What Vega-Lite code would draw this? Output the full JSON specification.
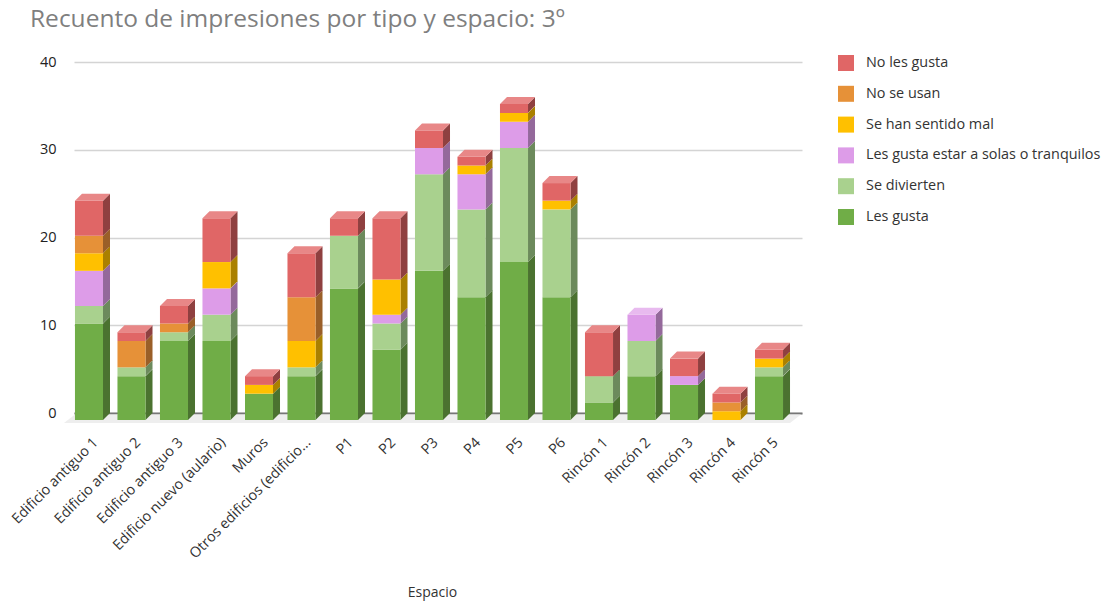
{
"$schema":"https://vega.github.io/schema/vega-lite/v6.json",
"width":728,"height":351,
"autosize":{"type":"none"},
"padding":{"left":74,"top":62,"right":305,"bottom":191},
"background":"white",
"title":{"text":"Recuento de impresiones por tipo y espacio: 3º","anchor":"start","frame":"group","dx":-44,"offset":22,"font":"Open Sans","fontSize":24.5,"fontWeight":"normal","color":"#7f7f7f"},
"config":{"view":{"stroke":null},"font":"Open Sans"},
"datasets":{
"filas":[
{"Espacio":"Edificio antiguo 1","Tipo":"Les gusta","orden":1,"Recuento":11},
{"Espacio":"Edificio antiguo 1","Tipo":"Se divierten","orden":2,"Recuento":2},
{"Espacio":"Edificio antiguo 1","Tipo":"Les gusta estar a solas o tranquilos","orden":3,"Recuento":4},
{"Espacio":"Edificio antiguo 1","Tipo":"Se han sentido mal","orden":4,"Recuento":2},
{"Espacio":"Edificio antiguo 1","Tipo":"No se usan","orden":5,"Recuento":2},
{"Espacio":"Edificio antiguo 1","Tipo":"No les gusta","orden":6,"Recuento":4},
{"Espacio":"Edificio antiguo 2","Tipo":"Les gusta","orden":1,"Recuento":5},
{"Espacio":"Edificio antiguo 2","Tipo":"Se divierten","orden":2,"Recuento":1},
{"Espacio":"Edificio antiguo 2","Tipo":"No se usan","orden":5,"Recuento":3},
{"Espacio":"Edificio antiguo 2","Tipo":"No les gusta","orden":6,"Recuento":1},
{"Espacio":"Edificio antiguo 3","Tipo":"Les gusta","orden":1,"Recuento":9},
{"Espacio":"Edificio antiguo 3","Tipo":"Se divierten","orden":2,"Recuento":1},
{"Espacio":"Edificio antiguo 3","Tipo":"No se usan","orden":5,"Recuento":1},
{"Espacio":"Edificio antiguo 3","Tipo":"No les gusta","orden":6,"Recuento":2},
{"Espacio":"Edificio nuevo (aulario)","Tipo":"Les gusta","orden":1,"Recuento":9},
{"Espacio":"Edificio nuevo (aulario)","Tipo":"Se divierten","orden":2,"Recuento":3},
{"Espacio":"Edificio nuevo (aulario)","Tipo":"Les gusta estar a solas o tranquilos","orden":3,"Recuento":3},
{"Espacio":"Edificio nuevo (aulario)","Tipo":"Se han sentido mal","orden":4,"Recuento":3},
{"Espacio":"Edificio nuevo (aulario)","Tipo":"No les gusta","orden":6,"Recuento":5},
{"Espacio":"Muros","Tipo":"Les gusta","orden":1,"Recuento":3},
{"Espacio":"Muros","Tipo":"Se han sentido mal","orden":4,"Recuento":1},
{"Espacio":"Muros","Tipo":"No les gusta","orden":6,"Recuento":1},
{"Espacio":"Otros edificios (edificio...","Tipo":"Les gusta","orden":1,"Recuento":5},
{"Espacio":"Otros edificios (edificio...","Tipo":"Se divierten","orden":2,"Recuento":1},
{"Espacio":"Otros edificios (edificio...","Tipo":"Se han sentido mal","orden":4,"Recuento":3},
{"Espacio":"Otros edificios (edificio...","Tipo":"No se usan","orden":5,"Recuento":5},
{"Espacio":"Otros edificios (edificio...","Tipo":"No les gusta","orden":6,"Recuento":5},
{"Espacio":"P1","Tipo":"Les gusta","orden":1,"Recuento":15},
{"Espacio":"P1","Tipo":"Se divierten","orden":2,"Recuento":6},
{"Espacio":"P1","Tipo":"No les gusta","orden":6,"Recuento":2},
{"Espacio":"P2","Tipo":"Les gusta","orden":1,"Recuento":8},
{"Espacio":"P2","Tipo":"Se divierten","orden":2,"Recuento":3},
{"Espacio":"P2","Tipo":"Les gusta estar a solas o tranquilos","orden":3,"Recuento":1},
{"Espacio":"P2","Tipo":"Se han sentido mal","orden":4,"Recuento":4},
{"Espacio":"P2","Tipo":"No les gusta","orden":6,"Recuento":7},
{"Espacio":"P3","Tipo":"Les gusta","orden":1,"Recuento":17},
{"Espacio":"P3","Tipo":"Se divierten","orden":2,"Recuento":11},
{"Espacio":"P3","Tipo":"Les gusta estar a solas o tranquilos","orden":3,"Recuento":3},
{"Espacio":"P3","Tipo":"No les gusta","orden":6,"Recuento":2},
{"Espacio":"P4","Tipo":"Les gusta","orden":1,"Recuento":14},
{"Espacio":"P4","Tipo":"Se divierten","orden":2,"Recuento":10},
{"Espacio":"P4","Tipo":"Les gusta estar a solas o tranquilos","orden":3,"Recuento":4},
{"Espacio":"P4","Tipo":"Se han sentido mal","orden":4,"Recuento":1},
{"Espacio":"P4","Tipo":"No les gusta","orden":6,"Recuento":1},
{"Espacio":"P5","Tipo":"Les gusta","orden":1,"Recuento":18},
{"Espacio":"P5","Tipo":"Se divierten","orden":2,"Recuento":13},
{"Espacio":"P5","Tipo":"Les gusta estar a solas o tranquilos","orden":3,"Recuento":3},
{"Espacio":"P5","Tipo":"Se han sentido mal","orden":4,"Recuento":1},
{"Espacio":"P5","Tipo":"No les gusta","orden":6,"Recuento":1},
{"Espacio":"P6","Tipo":"Les gusta","orden":1,"Recuento":14},
{"Espacio":"P6","Tipo":"Se divierten","orden":2,"Recuento":10},
{"Espacio":"P6","Tipo":"Se han sentido mal","orden":4,"Recuento":1},
{"Espacio":"P6","Tipo":"No les gusta","orden":6,"Recuento":2},
{"Espacio":"Rincón 1","Tipo":"Les gusta","orden":1,"Recuento":2},
{"Espacio":"Rincón 1","Tipo":"Se divierten","orden":2,"Recuento":3},
{"Espacio":"Rincón 1","Tipo":"No les gusta","orden":6,"Recuento":5},
{"Espacio":"Rincón 2","Tipo":"Les gusta","orden":1,"Recuento":5},
{"Espacio":"Rincón 2","Tipo":"Se divierten","orden":2,"Recuento":4},
{"Espacio":"Rincón 2","Tipo":"Les gusta estar a solas o tranquilos","orden":3,"Recuento":3},
{"Espacio":"Rincón 3","Tipo":"Les gusta","orden":1,"Recuento":4},
{"Espacio":"Rincón 3","Tipo":"Les gusta estar a solas o tranquilos","orden":3,"Recuento":1},
{"Espacio":"Rincón 3","Tipo":"No les gusta","orden":6,"Recuento":2},
{"Espacio":"Rincón 4","Tipo":"Se han sentido mal","orden":4,"Recuento":1},
{"Espacio":"Rincón 4","Tipo":"No se usan","orden":5,"Recuento":1},
{"Espacio":"Rincón 4","Tipo":"No les gusta","orden":6,"Recuento":1},
{"Espacio":"Rincón 5","Tipo":"Les gusta","orden":1,"Recuento":5},
{"Espacio":"Rincón 5","Tipo":"Se divierten","orden":2,"Recuento":1},
{"Espacio":"Rincón 5","Tipo":"Se han sentido mal","orden":4,"Recuento":1},
{"Espacio":"Rincón 5","Tipo":"No les gusta","orden":6,"Recuento":1}
],
"totales":[
{"Espacio":"Edificio antiguo 1","total":25,"arriba":"No les gusta"},
{"Espacio":"Edificio antiguo 2","total":10,"arriba":"No les gusta"},
{"Espacio":"Edificio antiguo 3","total":13,"arriba":"No les gusta"},
{"Espacio":"Edificio nuevo (aulario)","total":23,"arriba":"No les gusta"},
{"Espacio":"Muros","total":5,"arriba":"No les gusta"},
{"Espacio":"Otros edificios (edificio...","total":19,"arriba":"No les gusta"},
{"Espacio":"P1","total":23,"arriba":"No les gusta"},
{"Espacio":"P2","total":23,"arriba":"No les gusta"},
{"Espacio":"P3","total":33,"arriba":"No les gusta"},
{"Espacio":"P4","total":30,"arriba":"No les gusta"},
{"Espacio":"P5","total":36,"arriba":"No les gusta"},
{"Espacio":"P6","total":27,"arriba":"No les gusta"},
{"Espacio":"Rincón 1","total":10,"arriba":"No les gusta"},
{"Espacio":"Rincón 2","total":12,"arriba":"Les gusta estar a solas o tranquilos"},
{"Espacio":"Rincón 3","total":7,"arriba":"No les gusta"},
{"Espacio":"Rincón 4","total":3,"arriba":"No les gusta"},
{"Espacio":"Rincón 5","total":8,"arriba":"No les gusta"}
]
},
"encoding":{
"x":{"field":"Espacio","type":"nominal","sort":null,
"scale":{"type":"band","paddingInner":0.34,"paddingOuter":0.2345},
"axis":{"title":"Espacio","titleFont":"Open Sans","titleFontSize":14,"titleFontWeight":"normal","titleColor":"#333333","titleX":358,"titleY":172,"labelAngle":-45,"labelAlign":"right","labelBaseline":"middle","labelFontSize":14.4,"labelColor":"#333333","labelPadding":27,"labelOffset":-2,"labelLimit":300,"labelOverlap":false,"ticks":false,"domainColor":"#777777","domainWidth":2,"grid":false}}
},
"layer":[
{"data":{"name":"totales"},
"mark":{"type":"point","filled":true,"opacity":1,"strokeWidth":0,"size":3136,"fill":"#eeeeee","shape":"M-0.82 0.05 L0.82 0.05 L0.429 0.357 L-1.214 0.357 Z"},
"encoding":{"y":{"datum":0,"type":"quantitative","scale":{"domain":[0,40],"nice":false},
"axis":{"title":null,"values":[0,10,20,30,40],"grid":true,"gridColor":"#d4d4d4","gridWidth":1.6,"domain":false,"ticks":false,"labelFontSize":14.5,"labelColor":"#222222","labelPadding":18}}}},
{"data":{"name":"filas"},
"mark":{"type":"point","filled":true,"opacity":1,"strokeWidth":0,"size":3136},
"encoding":{
"y":{"field":"Recuento","type":"quantitative","stack":"zero"},
"order":{"field":"orden","type":"quantitative"},
"shape":{"field":"Recuento","type":"ordinal","legend":null,"scale":{"domain":[1,2,3,4,5,6,7,8,9,10,11,13,14,15,17,18],"range":[
"M0.179 0.25 L0.429 0 L0.429 0.313 L0.179 0.563 Z",
"M0.179 0.25 L0.429 0 L0.429 0.627 L0.179 0.877 Z",
"M0.179 0.25 L0.429 0 L0.429 0.94 L0.179 1.19 Z",
"M0.179 0.25 L0.429 0 L0.429 1.254 L0.179 1.504 Z",
"M0.179 0.25 L0.429 0 L0.429 1.567 L0.179 1.817 Z",
"M0.179 0.25 L0.429 0 L0.429 1.88 L0.179 2.13 Z",
"M0.179 0.25 L0.429 0 L0.429 2.194 L0.179 2.444 Z",
"M0.179 0.25 L0.429 0 L0.429 2.507 L0.179 2.757 Z",
"M0.179 0.25 L0.429 0 L0.429 2.821 L0.179 3.071 Z",
"M0.179 0.25 L0.429 0 L0.429 3.134 L0.179 3.384 Z",
"M0.179 0.25 L0.429 0 L0.429 3.447 L0.179 3.697 Z",
"M0.179 0.25 L0.429 0 L0.429 4.074 L0.179 4.324 Z",
"M0.179 0.25 L0.429 0 L0.429 4.387 L0.179 4.637 Z",
"M0.179 0.25 L0.429 0 L0.429 4.701 L0.179 4.951 Z",
"M0.179 0.25 L0.429 0 L0.429 5.328 L0.179 5.578 Z",
"M0.179 0.25 L0.429 0 L0.429 5.641 L0.179 5.891 Z"]}},
"color":{"field":"Tipo","type":"nominal","legend":null,"scale":{"domain":["No les gusta","No se usan","Se han sentido mal","Les gusta estar a solas o tranquilos","Se divierten","Les gusta"],"range":["#8f4040","#9a5f28","#aa8000","#94699b","#6c8a5c","#4b7230"]}}
}},
{"data":{"name":"filas"},
"mark":{"type":"bar","xOffset":-9,"x2Offset":-9,"yOffset":7,"y2Offset":7,"opacity":1},
"encoding":{
"y":{"field":"Recuento","type":"quantitative","stack":"zero"},
"order":{"field":"orden","type":"quantitative"},
"color":{"field":"Tipo","type":"nominal","scale":{"domain":["No les gusta","No se usan","Se han sentido mal","Les gusta estar a solas o tranquilos","Se divierten","Les gusta"],"range":["#e06666","#e69138","#ffc000","#dd9ce8","#a9d18e","#70ad47"]},
"legend":{"orient":"none","legendX":764,"legendY":-7,"title":null,"symbolType":"square","symbolSize":256,"symbolStrokeWidth":0,"symbolOpacity":1,"labelFontSize":14.4,"labelColor":"#333333","labelOffset":12,"rowPadding":14.8,"labelLimit":300,"padding":0}}
}},
{"data":{"name":"totales"},
"mark":{"type":"point","filled":true,"opacity":1,"strokeWidth":0,"size":3136,"shape":"M-0.821 0.25 L0.179 0.25 L0.429 0 L-0.571 0 Z"},
"encoding":{
"y":{"field":"total","type":"quantitative"},
"color":{"field":"arriba","type":"nominal","legend":null,"scale":{"domain":["No les gusta","Les gusta estar a solas o tranquilos"],"range":["#e88787","#e8baef"]}}
}}
],
"resolve":{"scale":{"color":"independent"}}
}
